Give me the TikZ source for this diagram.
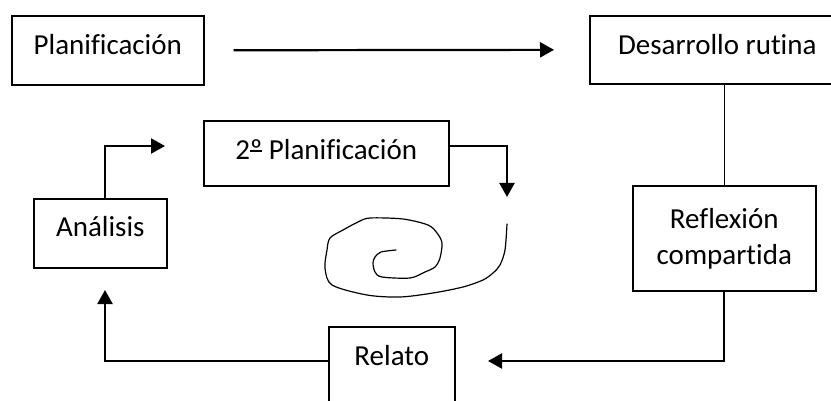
\documentclass[tikz,border=0pt]{standalone}
\usepackage{fontspec}
\setmainfont{Carlito}[Ligatures=NoCommon]
\usepackage{tikz}
\usetikzlibrary{arrows.meta}

\newcommand{\ordmasc}{\sbox0{º}\rlap{\rule[0.28em]{\wd0}{0.055em}}º}

\begin{document}
\begin{tikzpicture}[x=1pt, y=-1pt, every node/.style={font=\fontsize{29}{36}\selectfont, align=center}, box/.style={rectangle, draw=black, line width=1.6pt, inner sep=0pt, anchor=north west}, line/.style={-{Triangle[length=14pt,width=15pt]}, line width=2.2pt}, link/.style={line width=1.2pt}]
\useasboundingbox (0,0) rectangle (831,401);
\clip (0,0) rectangle (831,401);

\node[box, minimum width=192pt, text height=39pt, text depth=30pt] (plan) at (11,15) {Planificación};
\node[box, minimum width=255pt, text height=39pt, text depth=29pt] (desa) at (589,15) {Desarrollo rutina};
\node[box, minimum width=245pt, text height=39pt, text depth=26pt] (plan2) at (203,120) {2\ordmasc{} Planificación};
\node[box, minimum width=133pt, text height=38pt, text depth=31pt] (anal) at (33,198) {Análisis};
\node[box, minimum width=183pt, minimum height=105pt] (refl) at (632,185) {Reflexión\\compartida};
\node[box, minimum width=126pt, text height=39pt, text depth=55pt] (relato) at (328,326) {Relato};

% arrow tips that stop short of the boxes
\coordinate (tipa) at (105,290);
\coordinate (tipb) at (165,146);
\coordinate (tipc) at (507,197);
\coordinate (tipd) at (488,361);

\draw[line, shorten <=29pt, shorten >=35pt] (plan.east) -- (desa.west);
\draw[link] (refl.north) -- (refl.north |- desa.south);
\draw[line] (refl.south) |- (tipd);
\draw[line] (relato.west |- tipd) -| (tipa);
\draw[line] (anal.north -| tipa) |- (tipb);
\draw[line] (plan2.east |- tipb) -| (tipc);

% spiral
\draw[link, line join=round, line cap=round] plot[smooth, tension=0.5] coordinates {(507,224) (505,250) (500,265) (493,273) (483,280) (463,287) (433,293) (400,297) (367,295) (332,285) (325,268) (327,250) (330,238) (343,230) (358,222) (370,218) (403,219) (428,225) (437,233) (442,243) (440,258) (435,267) (425,272) (410,278) (382,277) (375,272) (373,263) (375,257) (381,252) (396,250)};
\end{tikzpicture}
\end{document}
